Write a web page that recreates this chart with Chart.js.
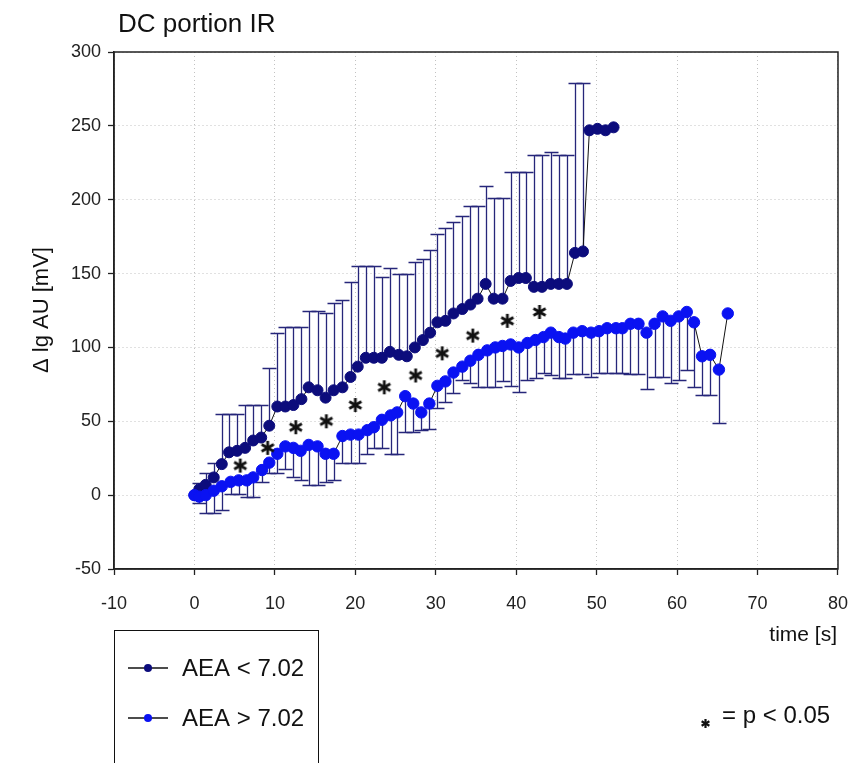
<!DOCTYPE html>
<html>
<head>
<meta charset="utf-8">
<script src="https://cdn.jsdelivr.net/npm/chart.js@4.4.0/dist/chart.umd.min.js"></script>
<style>
  html, body { margin: 0; padding: 0; background: #fff; }
  #wrap { width: 866px; height: 763px; }
</style>
</head>
<body>
<div id="wrap"><canvas id="chart" width="866" height="763"></canvas></div>
<script>
const titleText = 'DC portion IR';
const xTitle = 'time [s]';
const yTitle = 'Δ lg AU [mV]';
const seriesNames = ['AEA < 7.02', 'AEA > 7.02'];
const sigNote = '= p < 0.05';

// AEA < 7.02 (mean, upper SD)
const darkX = [0, 0.6, 1.4, 2.4, 3.4, 4.3, 5.3, 6.3, 7.3, 8.3, 9.3, 10.3, 11.3, 12.3, 13.3, 14.2, 15.3, 16.3, 17.3, 18.4,
  19.4, 20.3, 21.3, 22.3, 23.3, 24.3, 25.4, 26.4, 27.4, 28.4, 29.3, 30.2, 31.2, 32.2, 33.3, 34.3, 35.2, 36.2, 37.2, 38.3,
  39.3, 40.3, 41.2, 42.2, 43.2, 44.3, 45.3, 46.3, 47.3, 48.3, 49.1, 50.1, 51.1, 52.1];
const darkY = [0, 4, 7, 12, 21, 29, 30, 32, 37, 39, 47, 60, 60, 61, 65, 73, 71, 66, 71, 73,
  80, 87, 93, 93, 93, 97, 95, 94, 100, 105, 110, 117, 118, 123, 126, 129, 133, 143, 133, 133,
  145, 147, 147, 141, 141, 143, 143, 143, 164, 165, 247, 248, 247, 249];
const darkSD = [0, 4, 8, 10, 34, 26, 25, 29, 24, 22, 39, 50, 54, 53, 49, 52, 54, 57, 59, 59,
  64, 68, 62, 62, 55, 57, 55, 56, 58, 55, 56, 60, 63, 62, 63, 67, 63, 66, 68, 68,
  74, 72, 72, 89, 89, 89, 87, 87, 115, 114, 0, 0, 0, 0];

// AEA > 7.02 (mean, lower SD)
const blueX = [0, 0.6, 1.4, 2.4, 3.4, 4.5, 5.5, 6.5, 7.3, 8.4, 9.3, 10.3, 11.3, 12.3, 13.2, 14.2, 15.3, 16.3, 17.3, 18.4,
  19.4, 20.4, 21.5, 22.3, 23.3, 24.4, 25.2, 26.2, 27.2, 28.2, 29.2, 30.2, 31.2, 32.2, 33.3, 34.3, 35.3, 36.4, 37.4, 38.3,
  39.3, 40.3, 41.4, 42.4, 43.4, 44.3, 45.3, 46.1, 47.1, 48.2, 49.3, 50.3, 51.3, 52.4, 53.2, 54.2, 55.2, 56.2, 57.2, 58.2,
  59.2, 60.2, 61.2, 62.1, 63.1, 64.1, 65.2, 66.3];
const blueY = [0, -1, 0, 3, 6, 9, 10, 10, 12, 17, 22, 28, 33, 32, 30, 34, 33, 28, 28, 40,
  41, 41, 44, 46, 51, 54, 56, 67, 62, 56, 62, 74, 77, 83, 87, 91, 95, 98, 100, 101,
  102, 100, 103, 105, 107, 110, 107, 106, 110, 111, 110, 111, 113, 113, 113, 116, 116, 110, 116, 121,
  118, 121, 124, 117, 94, 95, 85, 123];
const blueSD = [0, 4, 12, 15, 16, 8, 9, 11, 13, 8, 7, 13, 15, 20, 20, 27, 26, 19, 18, 18,
  19, 19, 16, 14, 19, 26, 28, 24, 19, 12, 17, 15, 14, 14, 9, 15, 22, 25, 27, 24,
  28, 30, 25, 26, 24, 29, 28, 27, 28, 29, 30, 28, 30, 30, 30, 34, 34, 38, 36, 41,
  42, 43, 39, 44, 26, 27, 36, 0];

// significance marks
const sigX = [5.7, 9.1, 12.6, 16.4, 20.0, 23.6, 27.5, 30.8, 34.6, 38.9, 42.9];
const sigY = [20, 32, 46, 50, 61, 73, 81, 96, 108, 118, 124];

const FONT = '"Liberation Sans", Arial, sans-serif';
const DARK = '#0c0c7c';
const BLUE = '#0a12f2';
const BAR = '#26267a';

function toPoints(xs, ys) {
  return xs.map((x, i) => ({ x: x, y: ys[i] }));
}

// six armed asterisk used as point style
function makeStar(size, lw) {
  const c = document.createElement('canvas');
  c.width = size; c.height = size;
  const g = c.getContext('2d');
  g.strokeStyle = '#111';
  g.lineWidth = lw;
  g.translate(size / 2, size / 2);
  const r = size / 2 - 1;
  for (let k = 0; k < 3; k++) {
    const a = Math.PI / 2 + k * Math.PI / 3;
    g.beginPath();
    g.moveTo(Math.cos(a) * r, Math.sin(a) * r);
    g.lineTo(-Math.cos(a) * r, -Math.sin(a) * r);
    g.stroke();
  }
  return c;
}
const star = makeStar(16, 2.8);
const smallStar = makeStar(11, 2.2);

const errorBars = {
  id: 'errorBars',
  beforeDatasetsDraw(chart) {
    const ctx = chart.ctx;
    const xs = chart.scales.x, ys = chart.scales.y;
    ctx.save();
    ctx.strokeStyle = BAR;
    ctx.lineWidth = 1.3;
    chart.data.datasets.forEach(ds => {
      if (!ds.sd) return;
      ds.data.forEach((p, i) => {
        const e = ds.sd[i];
        if (!e) return;
        const px = Math.round(xs.getPixelForValue(p.x)) + 0.5;
        const y0 = ys.getPixelForValue(p.y);
        const y1 = Math.round(ys.getPixelForValue(p.y + ds.dir * e)) + 0.5;
        ctx.beginPath();
        ctx.moveTo(px, y0); ctx.lineTo(px, y1);
        ctx.moveTo(px - 7, y1); ctx.lineTo(px + 7, y1);
        ctx.stroke();
      });
    });
    ctx.restore();
  }
};

const annotations = {
  id: 'annotations',
  afterDraw(chart) {
    const ctx = chart.ctx, a = chart.chartArea;
    ctx.save();
    ctx.strokeStyle = '#222';
    ctx.lineWidth = 1.5;
    ctx.strokeRect(a.left, a.top, a.right - a.left, a.bottom - a.top);

    ctx.fillStyle = '#111';
    ctx.textAlign = 'left';
    ctx.textBaseline = 'alphabetic';
    ctx.font = '26px ' + FONT;
    ctx.fillText(titleText, 118, 32);

    ctx.font = '21px ' + FONT;
    ctx.textAlign = 'right';
    ctx.fillText(xTitle, 837, 641);

    ctx.save();
    ctx.font = '22px ' + FONT;
    ctx.translate(48, 310);
    ctx.rotate(-Math.PI / 2);
    ctx.textAlign = 'center';
    ctx.fillText(yTitle, 0, 0);
    ctx.restore();

    // legend box
    ctx.lineWidth = 1;
    ctx.strokeStyle = '#111';
    ctx.strokeRect(114.5, 630.5, 204, 150);
    const rows = [[668, DARK], [718, BLUE]];
    ctx.font = '24px ' + FONT;
    ctx.textAlign = 'left';
    ctx.textBaseline = 'middle';
    rows.forEach((r, i) => {
      ctx.beginPath();
      ctx.lineWidth = 1.3;
      ctx.moveTo(128, r[0]); ctx.lineTo(168, r[0]);
      ctx.stroke();
      ctx.beginPath();
      ctx.fillStyle = r[1];
      ctx.arc(148, r[0], 4, 0, Math.PI * 2);
      ctx.fill();
      ctx.fillStyle = '#111';
      ctx.fillText(seriesNames[i], 182, r[0] + 1);
    });

    ctx.drawImage(smallStar, 700, 718);
    ctx.fillText(sigNote, 722, 716);
    ctx.restore();
  }
};

const tickFont = { family: FONT, size: 18 };

new Chart(document.getElementById('chart'), {
  type: 'line',
  data: {
    datasets: [
      {
        label: seriesNames[0],
        data: toPoints(darkX, darkY),
        sd: darkSD, dir: 1,
        borderColor: '#111', borderWidth: 1,
        pointBackgroundColor: DARK, pointBorderColor: DARK,
        pointRadius: 5.5, pointBorderWidth: 1,
        tension: 0, order: 2
      },
      {
        label: seriesNames[1],
        data: toPoints(blueX, blueY),
        sd: blueSD, dir: -1,
        borderColor: '#111', borderWidth: 1,
        pointBackgroundColor: BLUE, pointBorderColor: BLUE,
        pointRadius: 5.7, pointBorderWidth: 1,
        tension: 0, order: 1
      },
      {
        type: 'scatter',
        label: 'p < 0.05',
        data: toPoints(sigX, sigY),
        pointStyle: star,
        showLine: false,
        order: 0
      }
    ]
  },
  options: {
    responsive: false,
    animation: false,
    events: [],
    layout: { padding: { top: 52, right: 28, left: 0, bottom: 0 } },
    plugins: { legend: { display: false }, tooltip: { enabled: false } },
    scales: {
      x: {
        type: 'linear', min: -10, max: 80,
        ticks: { stepSize: 10, font: tickFont, color: '#222', padding: 18, maxRotation: 0 },
        grid: { color: '#c2c2c2', tickColor: '#222', tickLength: 6, tickWidth: 1.3 },
        border: { color: '#222', width: 1.5, dash: [1, 3] },
        afterFit(s) { s.height = 194; }
      },
      y: {
        min: -50, max: 300,
        ticks: { stepSize: 50, font: tickFont, color: '#222', padding: 7 },
        grid: { color: '#c2c2c2', tickColor: '#222', tickLength: 6, tickWidth: 1.3 },
        border: { color: '#222', width: 1.5, dash: [1, 3] },
        afterFit(s) { s.width = 114; }
      }
    }
  },
  plugins: [errorBars, annotations]
});
</script>
</body>
</html>
